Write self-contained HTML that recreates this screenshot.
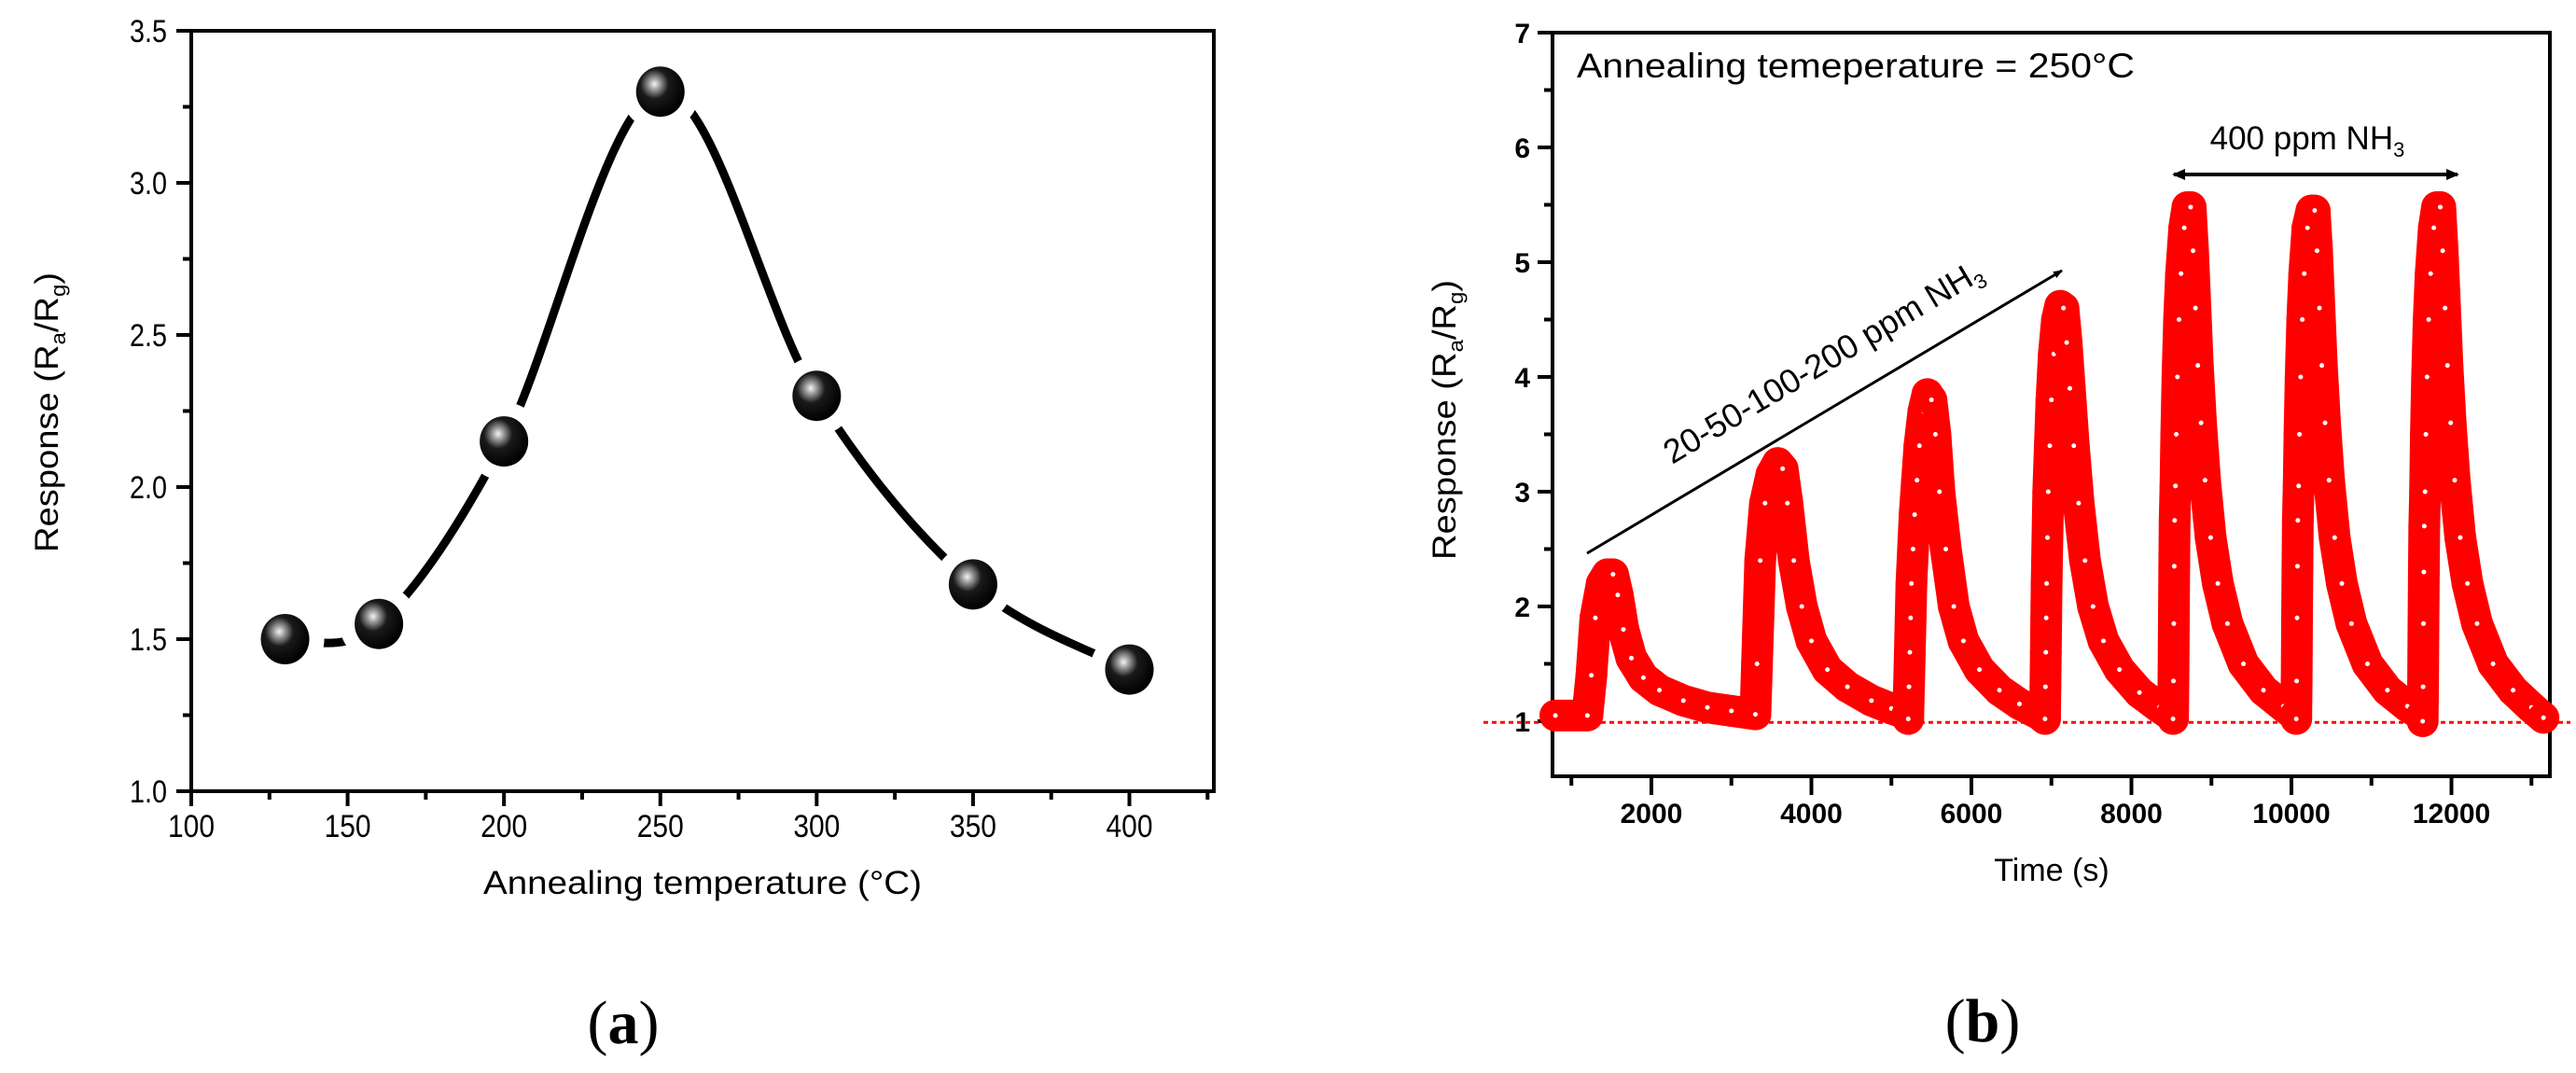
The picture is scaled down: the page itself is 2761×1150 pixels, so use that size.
<!DOCTYPE html>
<html><head><meta charset="utf-8"><style>
html,body{margin:0;padding:0;background:#fff;}
svg{display:block;font-family:"Liberation Sans",sans-serif;}
</style></head><body>
<svg id="fig" width="2761" height="1150" viewBox="0 0 2761 1150" xmlns="http://www.w3.org/2000/svg">
<defs>
<radialGradient id="ball" cx="0.38" cy="0.35" r="0.65">
<stop offset="0" stop-color="#f4f4f4"/><stop offset="0.18" stop-color="#9a9a9a"/><stop offset="0.45" stop-color="#1a1a1a"/><stop offset="1" stop-color="#000"/>
</radialGradient>
<marker id="ah" markerWidth="10" markerHeight="10" refX="9" refY="5" orient="auto" markerUnits="userSpaceOnUse"><path d="M0,1 L10,5 L0,9 z" fill="#000"/></marker>
<marker id="ah2" markerWidth="14" markerHeight="12" refX="12" refY="6" orient="auto-start-reverse" markerUnits="userSpaceOnUse"><path d="M0,0 L14,6 L0,12 z" fill="#000"/></marker>
</defs>
<g id="chartA"></g>
<g id="chartB"></g>
<text x="668" y="1118" font-family="Liberation Serif, serif" font-size="66" text-anchor="middle">(<tspan font-weight="bold">a</tspan>)</text>
<text x="2125" y="1116" font-family="Liberation Serif, serif" font-size="66" text-anchor="middle">(<tspan font-weight="bold">b</tspan>)</text>
</svg>
<script>
// ---- Chart A data ----
const tempCategories = [130, 160, 200, 250, 300, 350, 400];
const responseValues = [1.5, 1.55, 2.15, 3.3, 2.3, 1.68, 1.4];
const xTicksA = [100, 150, 200, 250, 300, 350, 400];
const yTicksA = ["1.0", "1.5", "2.0", "2.5", "3.0", "3.5"];
// ---- Chart B data ----
const timeValues = [800,1200,1250,1300,1380,1450,1520,1580,1650,1750,1900,2100,2400,2700,3000,3300,
3320,3360,3420,3500,3580,3640,3700,3780,3880,4000,4200,4450,4750,5000,5200,
5210,5220,5230,5240,5250,5270,5290,5320,5350,5400,5450,5500,5550,5600,5680,5780,5900,6100,6350,6600,6850,
6920,6925,6930,6935,6940,6950,6960,6980,7000,7030,7070,7110,7150,7190,7230,7280,7340,7420,7520,7650,7850,8100,8350,8500,
8520,8525,8530,8535,8540,8550,8560,8575,8595,8620,8660,8700,8740,8770,8800,8830,8870,8920,8990,9080,9200,9400,9650,9900,10050,
10060,10065,10070,10075,10080,10090,10100,10115,10135,10160,10200,10250,10290,10320,10350,10380,10420,10470,10540,10630,10750,10950,11200,11450,11630,
11640,11645,11650,11655,11660,11670,11680,11695,11715,11740,11780,11820,11860,11890,11920,11950,11990,12040,12110,12200,12320,12520,12770,13000,13150];
const responseB = [1.05,1.05,1.4,1.9,2.2,2.28,2.28,2.1,1.8,1.55,1.38,1.27,1.18,1.12,1.09,1.06,
1.5,2.4,2.9,3.15,3.25,3.2,2.9,2.4,2.0,1.7,1.45,1.3,1.18,1.11,1.06,
1.02,1.3,1.6,1.9,2.2,2.5,2.8,3.1,3.4,3.7,3.85,3.8,3.5,3.0,2.5,2.0,1.7,1.45,1.27,1.15,1.06,
1.02,1.3,1.6,1.9,2.2,2.6,3.0,3.4,3.8,4.2,4.5,4.62,4.6,4.3,3.9,3.4,2.9,2.4,2.0,1.7,1.45,1.25,1.12,1.05,
1.02,1.35,1.85,2.35,2.75,3.05,3.5,4.0,4.5,4.9,5.3,5.48,5.48,5.1,4.6,4.1,3.6,3.1,2.6,2.2,1.85,1.5,1.27,1.13,1.05,
1.02,1.35,1.9,2.35,2.75,3.05,3.5,4.0,4.5,4.9,5.3,5.45,5.45,5.1,4.6,4.1,3.6,3.1,2.6,2.2,1.85,1.5,1.27,1.13,1.05,
1.0,1.3,1.85,2.3,2.7,3.0,3.5,4.0,4.5,4.9,5.3,5.48,5.48,5.1,4.6,4.1,3.6,3.1,2.6,2.2,1.85,1.5,1.27,1.12,1.03];
const xTicksB = [2000, 4000, 6000, 8000, 10000, 12000];
const yTicksB = [1, 2, 3, 4, 5, 6, 7];
const baselineB = 0.99;

const NS = "http://www.w3.org/2000/svg";
function mk(parent, tag, attrs, text) {
  const e = document.createElementNS(NS, tag);
  for (const k in attrs) e.setAttribute(k, attrs[k]);
  if (text !== undefined) e.textContent = text;
  parent.appendChild(e);
  return e;
}

// ===== Chart A =====
(function(){
  const g = document.getElementById('chartA');
  const L = 205, R = 1301, T = 33, B = 848;
  const xMin = 100, xMax = 427, yMin = 1.0, yMax = 3.5;
  const sx = v => L + (v - xMin) / (xMax - xMin) * (R - L);
  const sy = v => B - (v - yMin) / (yMax - yMin) * (B - T);
  const frame = mk(g, 'rect', {x:L, y:T, width:R-L, height:B-T, fill:'none', stroke:'#000', 'stroke-width':4});
  
  
  for (let v = 100; v <= 425; v += 25) {
    const major = (v % 50 === 0);
    const t = mk(g, 'line', {x1:sx(v), x2:sx(v), y1:B, y2:B + (major ? 16 : 9), stroke:'#000', 'stroke-width':4});
    
    
  }
  xTicksA.forEach(v => {
    const t = mk(g, 'text', {x:sx(v), y:897, 'font-size':34, 'text-anchor':'middle', textLength:50, lengthAdjust:'spacingAndGlyphs'}, String(v));
    
    
  });
  for (let v = 1.0; v <= 3.51; v += 0.25) {
    const major = Math.abs(v * 2 - Math.round(v * 2)) < 1e-6;
    const t = mk(g, 'line', {x1:L - (major ? 16 : 9), x2:L, y1:sy(v), y2:sy(v), stroke:'#000', 'stroke-width':4});
    
    
  }
  yTicksA.forEach(s => {
    const t = mk(g, 'text', {x:179, y:sy(parseFloat(s)) + 12, 'font-size':34, 'text-anchor':'end', textLength:40, lengthAdjust:'spacingAndGlyphs'}, s);
    
    
  });
  const xt = mk(g, 'text', {x:753, y:958, 'font-size':35, 'text-anchor':'middle', textLength:470, lengthAdjust:'spacingAndGlyphs'}, 'Annealing temperature (°C)');
  
  
  const yt = mk(g, 'text', {x:0, y:0, 'font-size':35, 'text-anchor':'middle', transform:'translate(62,442) rotate(-90)', textLength:300, lengthAdjust:'spacingAndGlyphs'});
  
  
  yt.innerHTML = 'Response (R<tspan font-size="22" dy="8">a</tspan><tspan dy="-8">/R</tspan><tspan font-size="22" dy="8">g</tspan><tspan dy="-8">)</tspan>';
  const P = tempCategories.map((t, i) => [sx(t), sy(responseValues[i])]);
  let d = 'M' + P[0][0] + ',' + P[0][1];
  for (let i = 0; i < P.length - 1; i++) {
    const p0 = P[Math.max(0, i - 1)], p1 = P[i], p2 = P[i + 1], p3 = P[Math.min(P.length - 1, i + 2)];
    const c1 = [p1[0] + (p2[0] - p0[0]) / 6, p1[1] + (p2[1] - p0[1]) / 6];
    const c2 = [p2[0] - (p3[0] - p1[0]) / 6, p2[1] - (p3[1] - p1[1]) / 6];
    d += ' C' + c1[0] + ',' + c1[1] + ' ' + c2[0] + ',' + c2[1] + ' ' + p2[0] + ',' + p2[1];
  }
  const curve = mk(g, 'path', {d:d, fill:'none', stroke:'#000', 'stroke-width':9});
  
  
  P.forEach(p => {
    const w = mk(g, 'circle', {cx:p[0], cy:p[1], r:42, fill:'#fff'});
    
    
  });
  P.forEach(p => {
    const c = mk(g, 'ellipse', {cx:p[0], cy:p[1], rx:26, ry:27, fill:'url(#ball)'});
    
    
  });
})();

// ===== Chart B =====
(function(){
  const g = document.getElementById('chartB');
  const L = 1664, R = 2733, T = 35, B = 832;
  const xMin = 764, xMax = 13230, yMin = 0.52, yMax = 7;
  const sx = v => L + (v - xMin) / (xMax - xMin) * (R - L);
  const sy = v => B - (v - yMin) / (yMax - yMin) * (B - T);
  const frame = mk(g, 'rect', {x:L, y:T, width:R-L, height:B-T, fill:'none', stroke:'#000', 'stroke-width':4});
  
  
  for (let v = 1000; v <= 13000; v += 1000) {
    const major = (v % 2000 === 0);
    const t = mk(g, 'line', {x1:sx(v), x2:sx(v), y1:B, y2:B + (major ? 20 : 10), stroke:'#000', 'stroke-width':4});
    
    
  }
  xTicksB.forEach(v => {
    const t = mk(g, 'text', {x:sx(v), y:882, 'font-size':30, 'text-anchor':'middle', 'font-weight':'bold'}, String(v));
    
    
  });
  for (let v = 1; v <= 7; v += 0.5) {
    const major = (v % 1 === 0);
    const t = mk(g, 'line', {x1:L - (major ? 16 : 9), x2:L, y1:sy(v), y2:sy(v), stroke:'#000', 'stroke-width':4});
    
    
  }
  yTicksB.forEach(v => {
    const t = mk(g, 'text', {x:1640, y:sy(v) + 11, 'font-size':30, 'text-anchor':'end', 'font-weight':'bold'}, String(v));
    
    
  });
  const xt = mk(g, 'text', {x:2199, y:944, 'font-size':34, 'text-anchor':'middle'}, 'Time (s)');
  
  
  const yt = mk(g, 'text', {x:0, y:0, 'font-size':35, 'text-anchor':'middle', transform:'translate(1560,450) rotate(-90)', textLength:300, lengthAdjust:'spacingAndGlyphs'});
  
  
  yt.innerHTML = 'Response (R<tspan font-size="22" dy="8">a</tspan><tspan dy="-8">/R</tspan><tspan font-size="22" dy="8">g</tspan><tspan dy="-8">)</tspan>';
  const bl = mk(g, 'line', {x1:1590, x2:2755, y1:sy(baselineB), y2:sy(baselineB), stroke:'#f00', 'stroke-width':3, 'stroke-dasharray':'5,4'});
  
  
  let d = '';
  timeValues.forEach((t, i) => { d += (i ? ' L' : 'M') + sx(t) + ',' + sy(responseB[i]); });
  const line = mk(g, 'path', {d:d, fill:'none', stroke:'#f00', 'stroke-width':34, 'stroke-linejoin':'round', 'stroke-linecap':'round'});
  
  
  timeValues.forEach((t, i) => {
    const c = mk(g, 'circle', {cx:sx(t), cy:sy(responseB[i]), r:17, fill:'#f00'});
    
    
    const h = mk(g, 'circle', {cx:sx(t), cy:sy(responseB[i]), r:2.5, fill:'#fff'});
    
    
  });
  const a1 = mk(g, 'text', {x:1690, y:83, 'font-size':37, textLength:598, lengthAdjust:'spacingAndGlyphs'}, 'Annealing temeperature = 250°C');
  
  
  const a2 = mk(g, 'text', {x:2473, y:160, 'font-size':35, 'text-anchor':'middle'});
  
  
  a2.innerHTML = '400 ppm NH<tspan font-size="22" dy="8">3</tspan>';
  const ar = mk(g, 'line', {x1:2330, x2:2634, y1:187, y2:187, stroke:'#000', 'stroke-width':4, 'marker-start':'url(#ah2)', 'marker-end':'url(#ah2)'});
  
  
  const dg = mk(g, 'line', {x1:1701, x2:2210, y1:593, y2:290, stroke:'#000', 'stroke-width':3, 'marker-end':'url(#ah)'});
  
  
  const a3 = mk(g, 'text', {x:0, y:0, 'font-size':36, 'text-anchor':'middle', transform:'translate(1960,398) rotate(-30.8)'});
  
  
  a3.innerHTML = '20-50-100-200 ppm NH<tspan font-size="22" dy="8">3</tspan>';
})();
</script>
</body></html>
